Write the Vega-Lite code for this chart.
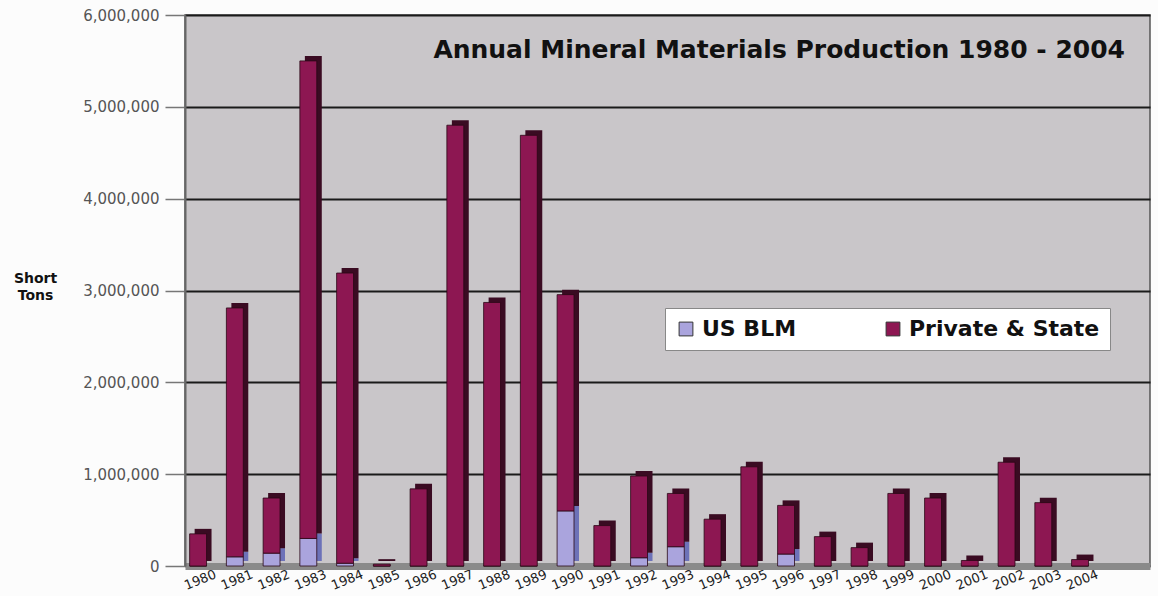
{
  "$schema": "https://vega.github.io/schema/vega-lite/v6.json",
  "autosize": {"type": "none"},
  "padding": {"left": 185, "top": 15, "right": 8, "bottom": 30},
  "width": 965,
  "height": 551,
  "background": "#fcfcfc",
  "title": {
    "text": "Annual Mineral Materials Production 1980 - 2004",
    "anchor": "end",
    "frame": "group",
    "orient": "top",
    "offset": -55,
    "dx": -25,
    "font": "DejaVu Sans",
    "fontSize": 25,
    "fontWeight": "bold",
    "color": "#111"
  },
  "config": {
    "view": {"fill": "#c9c6c9", "stroke": "#555", "strokeWidth": 1.5},
    "font": "Liberation Sans"
  },
  "data": {
    "values": [
      {"year": "1980", "source": "US BLM", "tons": 0},
      {"year": "1980", "source": "Private & State", "tons": 350000},
      {"year": "1981", "source": "US BLM", "tons": 100000},
      {"year": "1981", "source": "Private & State", "tons": 2710000},
      {"year": "1982", "source": "US BLM", "tons": 140000},
      {"year": "1982", "source": "Private & State", "tons": 600000},
      {"year": "1983", "source": "US BLM", "tons": 300000},
      {"year": "1983", "source": "Private & State", "tons": 5200000},
      {"year": "1984", "source": "US BLM", "tons": 30000},
      {"year": "1984", "source": "Private & State", "tons": 3160000},
      {"year": "1985", "source": "US BLM", "tons": 0},
      {"year": "1985", "source": "Private & State", "tons": 20000},
      {"year": "1986", "source": "US BLM", "tons": 0},
      {"year": "1986", "source": "Private & State", "tons": 840000},
      {"year": "1987", "source": "US BLM", "tons": 0},
      {"year": "1987", "source": "Private & State", "tons": 4800000},
      {"year": "1988", "source": "US BLM", "tons": 0},
      {"year": "1988", "source": "Private & State", "tons": 2870000},
      {"year": "1989", "source": "US BLM", "tons": 0},
      {"year": "1989", "source": "Private & State", "tons": 4690000},
      {"year": "1990", "source": "US BLM", "tons": 600000},
      {"year": "1990", "source": "Private & State", "tons": 2355000},
      {"year": "1991", "source": "US BLM", "tons": 0},
      {"year": "1991", "source": "Private & State", "tons": 440000},
      {"year": "1992", "source": "US BLM", "tons": 90000},
      {"year": "1992", "source": "Private & State", "tons": 890000},
      {"year": "1993", "source": "US BLM", "tons": 210000},
      {"year": "1993", "source": "Private & State", "tons": 580000},
      {"year": "1994", "source": "US BLM", "tons": 0},
      {"year": "1994", "source": "Private & State", "tons": 510000},
      {"year": "1995", "source": "US BLM", "tons": 0},
      {"year": "1995", "source": "Private & State", "tons": 1080000},
      {"year": "1996", "source": "US BLM", "tons": 130000},
      {"year": "1996", "source": "Private & State", "tons": 530000},
      {"year": "1997", "source": "US BLM", "tons": 0},
      {"year": "1997", "source": "Private & State", "tons": 320000},
      {"year": "1998", "source": "US BLM", "tons": 0},
      {"year": "1998", "source": "Private & State", "tons": 200000},
      {"year": "1999", "source": "US BLM", "tons": 0},
      {"year": "1999", "source": "Private & State", "tons": 790000},
      {"year": "2000", "source": "US BLM", "tons": 0},
      {"year": "2000", "source": "Private & State", "tons": 740000},
      {"year": "2001", "source": "US BLM", "tons": 0},
      {"year": "2001", "source": "Private & State", "tons": 60000},
      {"year": "2002", "source": "US BLM", "tons": 0},
      {"year": "2002", "source": "Private & State", "tons": 1130000},
      {"year": "2003", "source": "US BLM", "tons": 0},
      {"year": "2003", "source": "Private & State", "tons": 690000},
      {"year": "2004", "source": "US BLM", "tons": 0},
      {"year": "2004", "source": "Private & State", "tons": 70000}
    ]
  },
  "encoding": {
    "x": {
      "field": "year",
      "type": "ordinal",
      "scale": {"paddingInner": 0.54, "paddingOuter": 0.9, "align": 0.07},
      "axis": {
        "title": null,
        "labelAngle": -22,
        "labelAlign": "center",
        "labelBaseline": "top",
        "labelFont": "DejaVu Sans",
        "labelFontSize": 13,
        "labelColor": "#222",
        "labelPadding": 8,
        "ticks": false,
        "domainColor": "#8a8a8a",
        "domainWidth": 7
      }
    },
    "y": {
      "field": "tons",
      "type": "quantitative",
      "stack": "zero",
      "scale": {"domain": [0, 6000000], "nice": false},
      "axis": {
        "title": ["Short", "Tons"],
        "titleAngle": 0,
        "titleX": -150,
        "titleY": 256,
        "titleAlign": "center",
        "titleBaseline": "top",
        "titleFontSize": 14,
        "titleFontWeight": "bold",
        "titleColor": "#111",
        "titleFont": "DejaVu Sans",
        "titleLineHeight": 17,
        "values": [0, 1000000, 2000000, 3000000, 4000000, 5000000, 6000000],
        "format": ",d",
        "labelFontSize": 15,
        "labelColor": "#555",
        "labelFont": "DejaVu Sans",
        "labelPadding": 6,
        "tickSize": 20,
        "tickColor": "#777",
        "tickWidth": 1.5,
        "domainColor": "#666",
        "domainWidth": 2,
        "grid": true,
        "gridColor": "#1a1a1a",
        "gridWidth": 2
      }
    },
    "order": {"field": "source", "sort": "descending"}
  },
  "layer": [
    {
      "mark": {"type": "bar", "xOffset": 5, "x2Offset": 5, "yOffset": -5, "y2Offset": -5},
      "encoding": {
        "color": {
          "field": "source",
          "type": "nominal",
          "scale": {"domain": ["US BLM", "Private & State"], "range": ["#6d72b8", "#3a0b22"]},
          "legend": null
        }
      }
    },
    {
      "mark": {"type": "bar", "stroke": "#2a0815", "strokeWidth": 0.8},
      "encoding": {
        "color": {
          "field": "source",
          "type": "nominal",
          "scale": {"domain": ["US BLM", "Private & State"], "range": ["#aaa4dd", "#8d1752"]},
          "legend": {
            "title": null,
            "orient": "none",
            "legendX": 480,
            "legendY": 293,
            "direction": "horizontal",
            "fillColor": "#ffffff",
            "strokeColor": "#888",
            "padding": 10,
            "symbolType": "square",
            "symbolSize": 190,
            "symbolStrokeColor": "#333",
            "symbolStrokeWidth": 1,
            "labelFontSize": 22,
            "labelFont": "DejaVu Sans",
            "labelFontWeight": "bold",
            "labelColor": "#111",
            "labelOffset": 5,
            "columnPadding": 85,
            "labelLimit": 400
          }
        }
      }
    }
  ],
  "resolve": {"scale": {"color": "independent"}}
}
